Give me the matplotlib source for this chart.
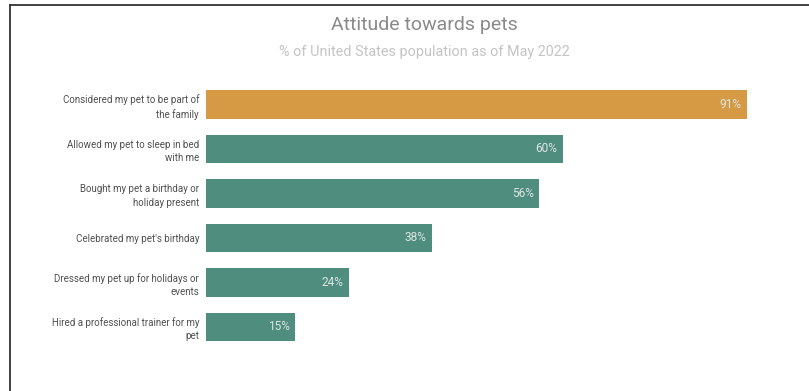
import matplotlib
matplotlib.use('Agg')
import matplotlib.pyplot as plt
from matplotlib.lines import Line2D

# data
labels = ['Considered my pet to be part of\nthe family',
          'Allowed my pet to sleep in bed\nwith me',
          'Bought my pet a birthday or\nholiday present',
          'Celebrated my pet\'s birthday',
          'Dressed my pet up for holidays or\nevents',
          'Hired a professional trainer for my\npet']
values = [91, 60, 56, 38, 24, 15]
colors = ['#d69a45', '#4f8d7f', '#4f8d7f', '#4f8d7f', '#4f8d7f', '#4f8d7f']

plt.rcParams['font.family'] = ['Roboto', 'DejaVu Sans']

fig = plt.figure(figsize=(8.09, 3.91), dpi=100)
fig.patch.set_facecolor('white')

ax = fig.add_axes([0.2546, 0.1074, 0.735, 0.6826])
ypos = list(range(len(values)))
ax.barh(ypos, values, height=0.64, color=colors)
ax.set_xlim(0, 100)
ax.set_ylim(len(values) - 0.5, -0.5)
ax.set_yticks(ypos)
ax.set_yticklabels(labels, fontsize=7, color='#505050', linespacing=1.4)
ax.tick_params(axis='y', length=0, pad=5)
ax.set_xticks([])
for s in ax.spines.values():
    s.set_visible(False)

for y, v in zip(ypos, values):
    ax.text(v - 0.9, y, '%d%%' % v, ha='right', va='center',
            fontsize=8.6, color='#dde6e2')

fig.text(0.525, 0.936, 'Attitude towards pets', ha='center', va='center',
         fontsize=14, color='#8a8a8a')
fig.text(0.525, 0.867, '% of United States population as of May 2022',
         ha='center', va='center', fontsize=10.4, color='#c4c4c4')

# scan border (left and top edges)
fig.add_artist(Line2D([0.0124, 0.0124], [0, 0.987], transform=fig.transFigure,
                      color='#333333', lw=1.3))
fig.add_artist(Line2D([0.0124, 1.0], [0.987, 0.987], transform=fig.transFigure,
                      color='#333333', lw=1.3))

fig.savefig('out.png', dpi=100, facecolor='white')
